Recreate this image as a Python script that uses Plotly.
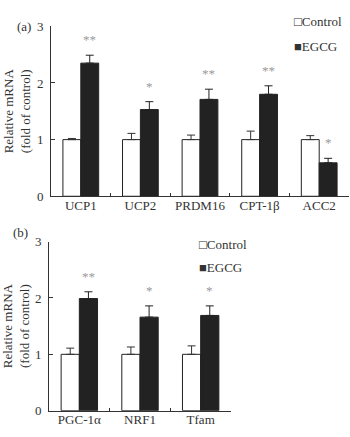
import plotly.graph_objects as go

# ---------------- data ----------------
cats_a = ["UCP1", "UCP2", "PRDM16", "CPT-1β", "ACC2"]
ctrl_a = [1.0, 1.0, 1.0, 1.0, 1.0]
ctrl_err_a = [0.02, 0.11, 0.08, 0.15, 0.07]
egcg_a = [2.35, 1.53, 1.71, 1.80, 0.59]
egcg_err_a = [0.14, 0.14, 0.18, 0.15, 0.08]
sig_a = ["**", "*", "**", "**", "*"]

cats_b = ["PGC-1α", "NRF1", "Tfam"]
ctrl_b = [1.0, 1.0, 1.0]
ctrl_err_b = [0.11, 0.13, 0.15]
egcg_b = [1.99, 1.66, 1.69]
egcg_err_b = [0.12, 0.20, 0.17]
sig_b = ["**", "*", "*"]

y_ticks = [0, 1, 2, 3]
series_names = ["Control", "EGCG"]
panel_labels = ["(a)", "(b)"]
y_title = "Relative mRNA<br>(fold of control)"

# ---------------- style ----------------
W, H = 350, 437
FONT = "Liberation Serif"
INK = "#333333"
DARK = "#222222"
BARGAP = 0.4

def px_x(p):
    return p / W

def px_y(p):
    return 1 - p / H

fig = go.Figure()

def add_panel(cats, ctrl, ctrl_err, egcg, egcg_err, xa, ya):
    n = len(cats)
    fig.add_trace(go.Bar(
        x=cats, y=ctrl, name=series_names[0], xaxis=xa, yaxis=ya,
        marker=dict(color="white", line=dict(color=DARK, width=1)),
        error_y=dict(type="data", array=ctrl_err, arrayminus=[0] * n,
                     symmetric=False, color=INK, thickness=1, width=4),
        showlegend=False))
    fig.add_trace(go.Bar(
        x=cats, y=egcg, name=series_names[1], xaxis=xa, yaxis=ya,
        marker=dict(color=DARK, line=dict(color=DARK, width=1)),
        error_y=dict(type="data", array=egcg_err, arrayminus=[0] * n,
                     symmetric=False, color=DARK, thickness=1, width=4),
        showlegend=False))

add_panel(cats_a, ctrl_a, ctrl_err_a, egcg_a, egcg_err_a, "x", "y")
add_panel(cats_b, ctrl_b, ctrl_err_b, egcg_b, egcg_err_b, "x2", "y2")

axis_common = dict(showline=True, linecolor=INK, linewidth=1, showgrid=False,
                   zeroline=False, ticks="inside", tickcolor=INK,
                   tickfont=dict(family=FONT, size=13, color=INK))

title_font = dict(family=FONT, size=13, color=INK)

fig.update_layout(
    width=W, height=H,
    margin=dict(l=0, r=0, t=0, b=0),
    paper_bgcolor="white", plot_bgcolor="white",
    barmode="group", bargap=BARGAP, bargroupgap=0,
    font=dict(family=FONT, size=13, color=INK),
    xaxis=dict(**axis_common, type="category", range=[-0.5, len(cats_a) - 0.5],
               domain=[px_x(51), px_x(349)], anchor="y", tickson="boundaries",
               ticklen=3, ticklabelstandoff=-3),
    yaxis=dict(**axis_common, range=[0, 3], tickvals=y_ticks, ticklen=4,
               domain=[px_y(196), px_y(20)], anchor="x", ticklabelstandoff=4,
               title=dict(text=y_title, standoff=3, font=title_font)),
    xaxis2=dict(**axis_common, type="category", range=[-0.5, len(cats_b) - 0.5],
                domain=[px_x(49), px_x(231)], anchor="y2", tickson="boundaries",
                ticklen=3, ticklabelstandoff=-3),
    yaxis2=dict(**axis_common, range=[0, 3], tickvals=y_ticks, ticklen=4,
                domain=[px_y(418), px_y(243)], anchor="x2", ticklabelstandoff=4,
                title=dict(text=y_title, standoff=3, font=title_font)),
)

# significance stars above the EGCG bars
off = (1 - BARGAP) / 4
anns = []
for xr, yr, vals, errs, sigs in [("x", "y", egcg_a, egcg_err_a, sig_a),
                                  ("x2", "y2", egcg_b, egcg_err_b, sig_b)]:
    for i, (v, e, s) in enumerate(zip(vals, errs, sigs)):
        anns.append(dict(x=i + off, y=v + e, xref=xr, yref=yr, text=s,
                         showarrow=False, yanchor="bottom", yshift=6,
                         font=dict(family=FONT, size=13, color="#999999")))

# panel labels
anns.append(dict(x=px_x(15), y=px_y(10), xref="paper", yref="paper",
                 text=panel_labels[0], showarrow=False,
                 font=dict(family=FONT, size=13, color=INK)))
anns.append(dict(x=px_x(11), y=px_y(233), xref="paper", yref="paper",
                 text=panel_labels[1], showarrow=False,
                 font=dict(family=FONT, size=13, color=INK)))

# legends (square + name, as in the original)
for lx, ly0, ly1 in [(292, 15, 41), (197, 246, 270)]:
    anns.append(dict(x=px_x(lx), y=px_y(ly0), xref="paper", yref="paper",
                     xanchor="left", yanchor="middle", showarrow=False,
                     text="□" + series_names[0],
                     font=dict(family=FONT, size=13, color=INK)))
    anns.append(dict(x=px_x(lx), y=px_y(ly1), xref="paper", yref="paper",
                     xanchor="left", yanchor="middle", showarrow=False,
                     text="■" + series_names[1],
                     font=dict(family=FONT, size=13, color=INK)))

fig.update_layout(annotations=anns)
fig.write_html("out.html")
